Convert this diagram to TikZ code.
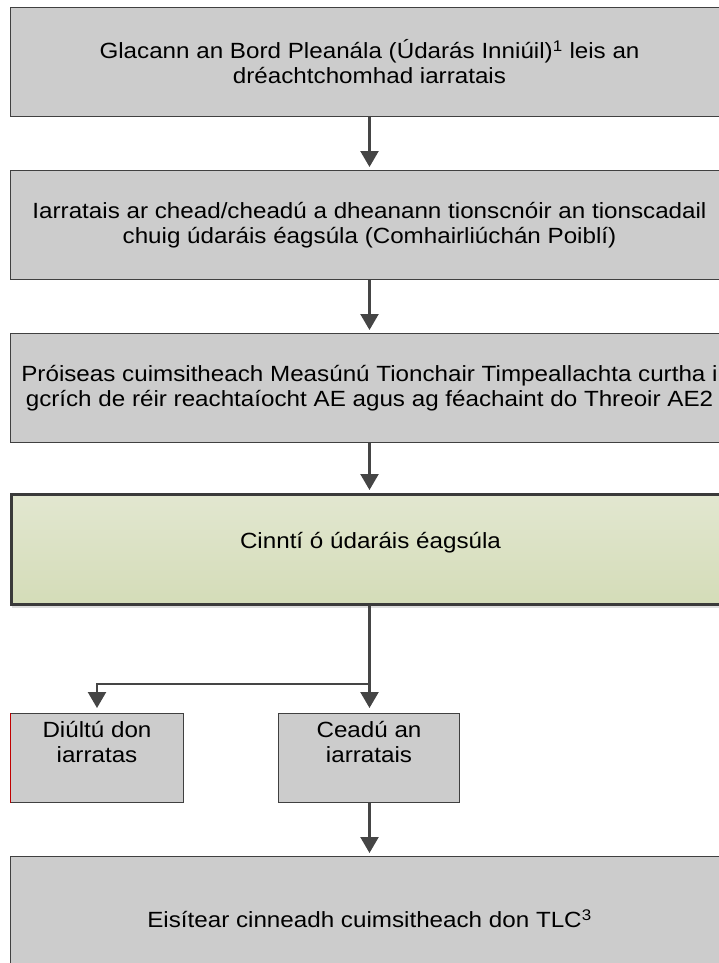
\documentclass[tikz,border=0pt]{standalone}
\usepackage{fontspec}
\setmainfont{Liberation Sans}[FakeStretch=1.1]
\usepackage{xcolor}
\usetikzlibrary{arrows.meta,shadows}

\definecolor{boxfill}{HTML}{CCCCCC}
\definecolor{boxline}{HTML}{404040}
\definecolor{arrline}{HTML}{454545}
\definecolor{greentop}{HTML}{E2E7D0}
\definecolor{greenbot}{HTML}{D4DCB8}

\begin{document}
\begin{tikzpicture}[x=1pt,y=-1pt,
  txt/.style={font=\fontsize{22}{25}\selectfont},
  bigbox/.style={txt,draw=boxline,fill=boxfill,line width=1pt,
    minimum width=718pt,minimum height=109pt,align=center,inner sep=0pt},
  decbox/.style={txt,draw=boxline!90!black,line width=3pt,
    top color=greentop,bottom color=greenbot,
    minimum width=718pt,minimum height=110pt,inner sep=0pt,text depth=19pt,
    drop shadow={shadow xshift=0pt,shadow yshift=-3pt,opacity=0.25}},
  smallbox/.style={txt,draw=boxline,fill=boxfill,line width=1pt,
    minimum height=89pt,align=center,inner sep=0pt},
  arr/.style={draw=arrline,line width=2.3pt,
    -{Triangle[length=16pt,width=18pt]},shorten >=3pt}]

  \useasboundingbox (0,0) rectangle (719,963);
  \clip (0,0) rectangle (719,963);

  \node[bigbox,anchor=north west] (accept) at (10,7)
    {Glacann an Bord Pleanála (Údarás Inniúil)\textsuperscript{1} leis an\\
     dréachtchomhad iarratais};
  \node[bigbox,anchor=north west] (apply) at (10,170)
    {Iarratais ar chead/cheadú a dheanann tionscnóir an tionscadail\\
     chuig údaráis éagsúla (Comhairliúchán Poiblí)};
  \node[bigbox,anchor=north west] (eia) at (10,333)
    {Próiseas cuimsitheach Measúnú Tionchair Timpeallachta curtha i\\
     gcrích de réir reachtaíocht AE agus ag féachaint do Threoir AE2};
  \node[decbox,anchor=north west] (dec) at (10,493)
    {Cinntí ó údaráis éagsúla};
  \node[smallbox,minimum width=173pt,anchor=north west] (refuse) at (10,713)
    {Diúltú don\\iarratas\\[8pt]\mbox{}};
  \node[smallbox,minimum width=181pt,anchor=north west] (grant) at (278,713)
    {Ceadú an\\iarratais\\[8pt]\mbox{}};
  \node[bigbox,minimum height=124pt,anchor=north west] (issue) at (10,856)
    {Eisítear cinneadh cuimsitheach don TLC\textsuperscript{3}};

  \coordinate (split) at (accept.south |- 0,684);

  \draw[red!75!black,line width=1pt] (refuse.north west) -- (refuse.south west);

  \draw[arr] (accept.south) -- (accept.south |- apply.north);
  \draw[arr] (apply.south) -- (apply.south |- eia.north);
  \draw[arr] (eia.south) -- (eia.south |- dec.north);
  \draw[arr,shorten >=5pt] (split |- dec.south) -- (split) -| (refuse.north);
  \draw[arr,shorten >=5pt] (split) -- (split |- grant.north);
  \draw[arr] (split |- grant.south) -- (split |- issue.north);
\end{tikzpicture}
\end{document}
